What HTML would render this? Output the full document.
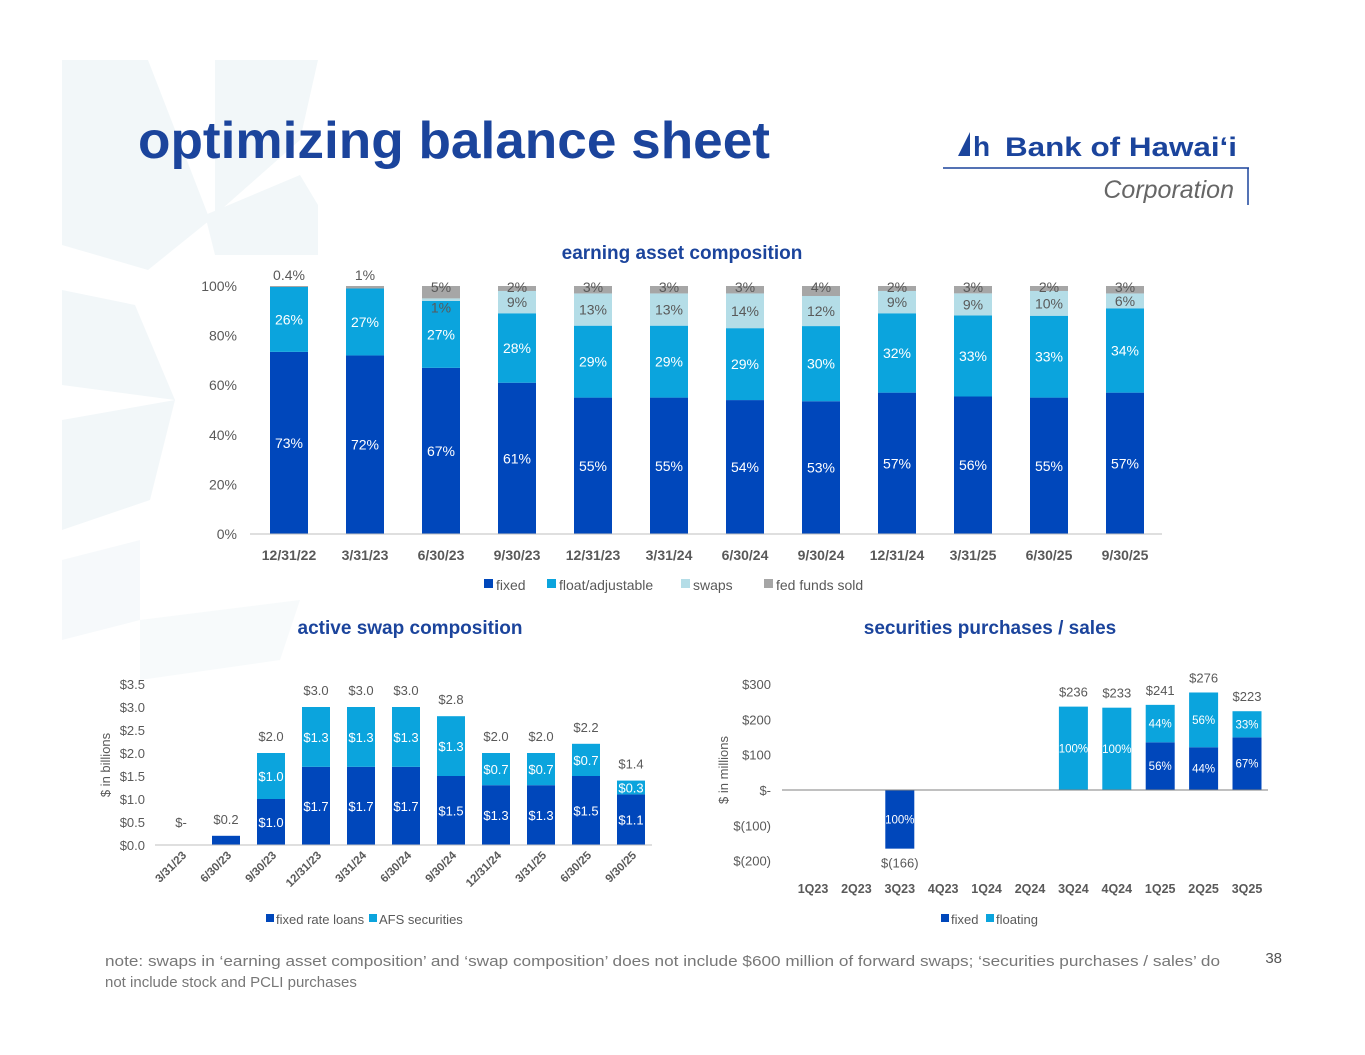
<!DOCTYPE html>
<html><head><meta charset="utf-8"><style>
body{margin:0;background:#fff;}
#root{position:relative;width:1365px;height:1055px;overflow:hidden;font-family:"Liberation Sans",Arial,sans-serif;}
svg text{font-family:"Liberation Sans",Arial,sans-serif;}
</style></head><body>
<div id="root">
<svg id="s" width="1365" height="1055" xmlns="http://www.w3.org/2000/svg">
<g fill="#F2F7F9">
<polygon points="62,60 148,60 210,220 148,270 62,245"/>
<polygon points="215,60 318,60 300,140 215,215"/>
<polygon points="205,215 300,175 318,205 318,255 215,255"/>
<polygon points="62,290 135,305 175,400 62,385"/>
<polygon points="62,420 175,400 150,500 62,530"/>
<polygon points="62,560 140,540 140,620 62,640" opacity="0.7"/>
<polygon points="140,620 300,600 280,660 140,680" opacity="0.6"/>
</g>
<text x="138" y="158" font-size="52" font-weight="bold" fill="#1B449C" textLength="632" lengthAdjust="spacingAndGlyphs">optimizing balance sheet</text>
<g>
<polygon points="958,156 970,132 970,156" fill="#1B449C"/>
<text x="973" y="156" font-size="28" font-weight="bold" fill="#1B449C" font-family="Liberation Serif">h</text>
<text x="1005" y="156" font-size="27" font-weight="bold" fill="#1B449C" textLength="232" lengthAdjust="spacingAndGlyphs">Bank of Hawaiʻi</text>
<line x1="943" y1="168" x2="1249" y2="168" stroke="#1B449C" stroke-width="1.5"/>
<line x1="1248" y1="168" x2="1248" y2="205" stroke="#1B449C" stroke-width="1.5"/>
<text x="1234" y="198" font-size="25" font-style="italic" fill="#666" text-anchor="end">Corporation</text>
</g>
<g id="c1"></g>
<g id="c2"></g>
<g id="c3"></g>
<text x="105" y="966" font-size="15" fill="#777" textLength="1115" lengthAdjust="spacingAndGlyphs">note: swaps in ‘earning asset composition’ and ‘swap composition’ does not include $600 million of forward swaps; ‘securities purchases / sales’ do</text>
<text x="105" y="987" font-size="15" fill="#777">not include stock and PCLI purchases</text>
<text x="1282" y="963" font-size="15" fill="#555" text-anchor="end">38</text>
</svg>
</div>
<script>
const NS="http://www.w3.org/2000/svg";
function mk(p,tag,at,txt){const e=document.createElementNS(NS,tag);for(const k in at)e.setAttribute(k,at[k]);if(txt!==undefined)e.textContent=txt;p.appendChild(e);return e;}
const DARK="#0047BB",LIGHT="#0BA4DD",SW="#B4DDE7",FED="#A6A6A6";

// ---- chart 1 data ----
const c1Cats=["12/31/22","3/31/23","6/30/23","9/30/23","12/31/23","3/31/24","6/30/24","9/30/24","12/31/24","3/31/25","6/30/25","9/30/25"];
const c1Fixed=[73,72,67,61,55,55,54,53,57,56,55,57];
const c1Float=[26,27,27,28,29,29,29,30,32,33,33,34];
const c1Swaps=[0,0,1,9,13,13,14,12,9,9,10,6];
const c1Fed=[0.4,1,5,2,3,3,3,4,2,3,2,3];
const c1FedLbl=["0.4%","1%","5%","2%","3%","3%","3%","4%","2%","3%","2%","3%"];
const c1Ticks=[0,20,40,60,80,100];
(function(){
 const g=document.getElementById('c1');
 const y=v=>534-v*2.48, x=i=>289+i*76, bw=38;
 let t=mk(g,'text',{x:682,y:259,'font-size':19,'font-weight':'bold',fill:'#1B449C','text-anchor':'middle'},'earning asset composition');
 
 
 c1Ticks.forEach(v=>{const e=mk(g,'text',{x:237,y:y(v)+5,'font-size':14,fill:'#595959','text-anchor':'end'},v+'%');
  
  });
 c1Cats.forEach((c,i)=>{
  const tot=c1Fixed[i]+c1Float[i]+c1Swaps[i]+c1Fed[i], k=100/tot;
  const segs=[[c1Fixed[i],DARK,'#fff'],[c1Float[i],LIGHT,'#fff'],[c1Swaps[i],SW,'#595959'],[c1Fed[i],FED,'#595959']];
  let acc=0;
  segs.forEach((s,j)=>{
   const v=s[0]*k; if(v<=0){return;}
   const r=mk(g,'rect',{x:x(i)-bw/2,y:y(acc+v),width:bw,height:v*2.48,fill:s[1]});
   
   
   let ly=y(acc+v/2)+5, txt=s[0]+'%';
   if(j===3){txt=c1FedLbl[i]; ly=c1Swaps[i]>0?y(acc+v)+6:y(acc+v)-6;}
   if(j===2 && s[0]<3) ly=y(acc+v)+14;
   const e=mk(g,'text',{x:x(i),y:ly,'font-size':14,fill:s[2],'text-anchor':'middle'},txt);
   
   
   acc+=v;
  });
  const l=mk(g,'text',{x:x(i),y:560,'font-size':14,'font-weight':'bold',fill:'#595959','text-anchor':'middle'},c);
  
  
 });
 const ax=mk(g,'line',{x1:250,y1:534,x2:1162,y2:534,stroke:'#BFBFBF'});
 
 
 const L=[['fixed',DARK,484],['float/adjustable',LIGHT,547],['swaps',SW,681],['fed funds sold',FED,764]];
 L.forEach(a=>{const r=mk(g,'rect',{x:a[2],y:579,width:9,height:9,fill:a[1]});
  
  
  const e=mk(g,'text',{x:a[2]+12,y:590,'font-size':14,fill:'#595959'},a[0]);
  
  });
})();

// ---- chart 2 data ----
const c2Cats=["3/31/23","6/30/23","9/30/23","12/31/23","3/31/24","6/30/24","9/30/24","12/31/24","3/31/25","6/30/25","9/30/25"];
const c2Fixed=[0,0.2,1.0,1.7,1.7,1.7,1.5,1.3,1.3,1.5,1.1];
const c2Afs=[0,0,1.0,1.3,1.3,1.3,1.3,0.7,0.7,0.7,0.3];
const c2Tot=["$-","$0.2","$2.0","$3.0","$3.0","$3.0","$2.8","$2.0","$2.0","$2.2","$1.4"];
const c2Ticks=[0,0.5,1,1.5,2,2.5,3,3.5];
(function(){
 const g=document.getElementById('c2');
 const y=v=>845-v*46, x=i=>181+i*45, bw=28;
 let t=mk(g,'text',{x:410,y:634,'font-size':19,'font-weight':'bold',fill:'#1B449C','text-anchor':'middle'},'active swap composition');
 
 
 c2Ticks.forEach(v=>{const e=mk(g,'text',{x:145,y:y(v)+5,'font-size':13,fill:'#595959','text-anchor':'end'},'$'+v.toFixed(1));
  
  });
 const yt=mk(g,'text',{x:0,y:0,'font-size':13,fill:'#595959','text-anchor':'middle',transform:'translate(110,765) rotate(-90)'},'$ in billions');
 
 
 c2Cats.forEach((c,i)=>{
  const f=c2Fixed[i],a=c2Afs[i];
  if(f>0){const r=mk(g,'rect',{x:x(i)-bw/2,y:y(f),width:bw,height:f*46,fill:DARK});
   
   
   if(f>=0.5){const e=mk(g,'text',{x:x(i),y:y(f/2)+5,'font-size':13,fill:'#fff','text-anchor':'middle'},'$'+f.toFixed(1));
    
    }}
  if(a>0){const r=mk(g,'rect',{x:x(i)-bw/2,y:y(f+a),width:bw,height:a*46,fill:LIGHT});
   
   
   const e=mk(g,'text',{x:x(i),y:y(f+a/2)+5,'font-size':13,fill:'#fff','text-anchor':'middle'},'$'+a.toFixed(1));
   
   }
  const tl=mk(g,'text',{x:x(i),y:y(f+a)-(f+a>0?12:18),'font-size':13,fill:'#595959','text-anchor':'middle'},c2Tot[i]);
  
  
  const l=mk(g,'text',{x:0,y:0,'font-size':11.5,'font-weight':'bold',fill:'#595959','text-anchor':'end',transform:`translate(${x(i)+6},856) rotate(-45)`},c);
  
  
 });
 const ax=mk(g,'line',{x1:155,y1:845,x2:652,y2:845,stroke:'#BFBFBF'});
 
 
 [['fixed rate loans',DARK,266],['AFS securities',LIGHT,369]].forEach(a=>{const r=mk(g,'rect',{x:a[2],y:914,width:8,height:8,fill:a[1]});
  
  
  const e=mk(g,'text',{x:a[2]+10,y:924,'font-size':13,fill:'#595959'},a[0]);
  
  });
})();

// ---- chart 3 data ----
const c3Cats=["1Q23","2Q23","3Q23","4Q23","1Q24","2Q24","3Q24","4Q24","1Q25","2Q25","3Q25"];
const c3Fixed=[0,0,-166,0,0,0,0,0,135,121,149];
const c3Float=[0,0,0,0,0,0,236,233,106,155,74];
const c3FixedPct=["","","100%","","","","","","56%","44%","67%"];
const c3FloatPct=["","","","","","","100%","100%","44%","56%","33%"];
const c3Tot=["","","$(166)","","","","$236","$233","$241","$276","$223"];
const c3Ticks=[-200,-100,0,100,200,300];
(function(){
 const g=document.getElementById('c3');
 const y=v=>790-v*0.3533, x=i=>813+i*43.4, bw=29;
 let t=mk(g,'text',{x:990,y:634,'font-size':19,'font-weight':'bold',fill:'#1B449C','text-anchor':'middle'},'securities purchases / sales');
 
 
 c3Ticks.forEach(v=>{const s=v===0?'$-':(v<0?'$('+(-v)+')':'$'+v);
  const e=mk(g,'text',{x:771,y:y(v)+5,'font-size':13,fill:'#595959','text-anchor':'end'},s);
  
  });
 const yt=mk(g,'text',{x:0,y:0,'font-size':13,fill:'#595959','text-anchor':'middle',transform:'translate(728,770) rotate(-90)'},'$ in millions');
 
 
 c3Cats.forEach((c,i)=>{
  const f=c3Fixed[i],a=c3Float[i];
  if(f!==0){const r=mk(g,'rect',{x:x(i)-bw/2,y:Math.min(y(0),y(f)),width:bw,height:Math.abs(f)*0.3533,fill:DARK});
   
   
   const e=mk(g,'text',{x:x(i),y:y(f/2)+4,'font-size':11.5,fill:'#fff','text-anchor':'middle'},c3FixedPct[i]);
   
   }
  const base=Math.max(f,0);
  if(a>0){const r=mk(g,'rect',{x:x(i)-bw/2,y:y(base+a),width:bw,height:a*0.3533,fill:LIGHT});
   
   
   const e=mk(g,'text',{x:x(i),y:y(base+a/2)+4,'font-size':11.5,fill:'#fff','text-anchor':'middle'},c3FloatPct[i]);
   
   }
  if(c3Tot[i]){const top=f<0?y(f)+19:y(base+a)-10;
   const e=mk(g,'text',{x:x(i),y:top,'font-size':13,fill:'#595959','text-anchor':'middle'},c3Tot[i]);
   
   }
  const l=mk(g,'text',{x:x(i),y:893,'font-size':12.5,'font-weight':'bold',fill:'#595959','text-anchor':'middle'},c);
  
  
 });
 const ax=mk(g,'line',{x1:782,y1:790,x2:1268,y2:790,stroke:'#808080'});
 
 
 [['fixed',DARK,941],['floating',LIGHT,986]].forEach(a=>{const r=mk(g,'rect',{x:a[2],y:914,width:8,height:8,fill:a[1]});
  
  
  const e=mk(g,'text',{x:a[2]+10,y:924,'font-size':13,fill:'#595959'},a[0]);
  
  });
})();
</script>
</body></html>
